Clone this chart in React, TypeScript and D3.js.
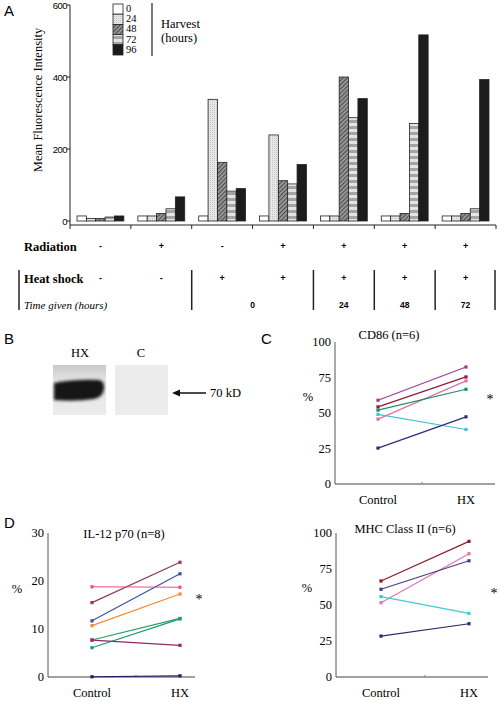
import React from "react";
import * as d3 from "d3";

// ---------- Panel A data ----------
const harvestLabels = ["0", "24", "48", "72", "96"];
const groupIndex = [0, 1, 2, 3, 4, 5, 6];
const h0 = [14, 14, 14, 14, 14, 14, 14];
const h24 = [7, 14, 338, 239, 14, 14, 14];
const h48 = [7, 21, 163, 112, 400, 21, 21];
const h72 = [11, 34, 83, 103, 287, 271, 34];
const h96 = [14, 67, 90, 157, 340, 517, 393];
const yTicksA = [0, 200, 400, 600];
const radiation = ["-", "+", "-", "+", "+", "+", "+"];
const heatShock = ["-", "-", "+", "+", "+", "+", "+"];
const timeGiven = ["0", "24", "48", "72"];

// ---------- Line panels data ----------
const cd86Control = [59, 54.3, 45.7, 52, 49, 25.3];
const cd86HX = [82.4, 75.4, 72.6, 66.7, 38.4, 47.3];
const cd86Colors = ["#9b3f92", "#8e1c3c", "#d873aa", "#1f8f62", "#3fc2d2", "#2c2c7c"];

const il12Control = [15.5, 11.7, 18.8, 10.7, 7.7, 6.1, 7.7, 0.05];
const il12HX = [23.9, 21.5, 18.7, 17.3, 12.2, 12.1, 6.6, 0.25];
const il12Colors = ["#8e3a52", "#3b50a2", "#ea4d8e", "#f28a3c", "#27a05c", "#1a9a78", "#8c2a6c", "#1c1c6c"];

const mhcControl = [66.7, 51.6, 60.9, 55.8, 28.4];
const mhcHX = [94.2, 85.6, 80.7, 44.2, 37];
const mhcColors = ["#8e1c2c", "#e274b4", "#4c3c7c", "#42cad2", "#2c2c6c"];

const pctTicks = [0, 25, 50, 75, 100];
const il12Ticks = [0, 10, 20, 30];
const conditionLabels = ["Control", "HX"];

const serif = "'Liberation Serif', 'Times New Roman', serif";
const sans = "'Liberation Sans', Arial, sans-serif";

function BarPanel() {
  const y = d3.scaleLinear().domain([0, 600]).range([221, 5]);
  const gx = d3.scaleBand<number>().domain(groupIndex).range([70, 496]).padding(0);
  const bx = d3
    .scaleBand<string>()
    .domain(harvestLabels)
    .range([7, gx.bandwidth() - 7])
    .padding(0);
  const series = [h0, h24, h48, h72, h96];
  const fills = ["#ffffff", "url(#p24)", "url(#p48)", "url(#p72)", "#1c1c1c"];
  const centers = groupIndex.map((g) => (gx(g) as number) + gx.bandwidth() / 2);
  const boundaries = d3.range(8).map((i) => 70 + i * gx.bandwidth());
  return (
    <g>
      <text x={4} y={16} fontFamily={sans} fontSize={15}>A</text>
      {/* legend */}
      {harvestLabels.map((h, i) => (
        <g key={h}>
          <rect x={113} y={4 + i * 10.2} width={10} height={10.2} fill={fills[i]} stroke="#222" strokeWidth={0.8} />
          <text x={126} y={12 + i * 10.2} fontFamily={serif} fontSize={10.5}>{h}</text>
        </g>
      ))}
      <line x1={152} x2={152} y1={3} y2={56} stroke="#222" strokeWidth={1.2} />
      <text x={161} y={28} fontFamily={serif} fontSize={12.5}>Harvest</text>
      <text x={161} y={42} fontFamily={serif} fontSize={12.5}>(hours)</text>
      {/* y axis */}
      <line x1={70} x2={70} y1={5} y2={225} stroke="#222" strokeWidth={1} />
      {yTicksA.map((t) => (
        <g key={t}>
          <line x1={67} x2={70} y1={y(t)} y2={y(t)} stroke="#222" />
          <text x={67} y={y(t) + 3.5} textAnchor="end" fontFamily={sans} fontSize={9.5} letterSpacing={-0.5}>{t}</text>
        </g>
      ))}
      <text
        transform={`translate(42,100) rotate(-90)`}
        textAnchor="middle"
        fontFamily={serif}
        fontSize={12.5}
      >Mean Fluorescence Intensity</text>
      {/* x axis */}
      <line x1={70} x2={496} y1={225} y2={225} stroke="#222" strokeWidth={1} />
      {boundaries.map((b, i) => (
        <line key={i} x1={b} x2={b} y1={225} y2={229} stroke="#222" />
      ))}
      {/* bars */}
      {series.map((s, si) =>
        s.map((v, gi) => (
          <rect
            key={`${si}-${gi}`}
            x={(gx(gi) as number) + (bx(harvestLabels[si]) as number)}
            y={y(v)}
            width={bx.bandwidth()}
            height={221 - y(v)}
            fill={fills[si]}
            stroke="#222"
            strokeWidth={0.8}
          />
        ))
      )}
      {/* treatment table */}
      <text x={24} y={251} fontFamily={serif} fontSize={12.5} fontWeight="bold">Radiation</text>
      {radiation.map((r, i) => (
        <text key={i} x={centers[i]} y={249} textAnchor="middle" fontFamily={sans} fontSize={9} fontWeight="bold">{r}</text>
      ))}
      <text x={24} y={283} fontFamily={serif} fontSize={12.5} fontWeight="bold">Heat shock</text>
      {heatShock.map((r, i) => (
        <text key={i} x={centers[i]} y={281} textAnchor="middle" fontFamily={sans} fontSize={9} fontWeight="bold">{r}</text>
      ))}
      <text x={24} y={309} fontFamily={serif} fontSize={11} fontStyle="italic">Time given (hours)</text>
      {[19, boundaries[2], boundaries[4], boundaries[5], boundaries[6], boundaries[7] - 1].map((b, i) => (
        <line key={i} x1={b} x2={b} y1={270} y2={310} stroke="#222" strokeWidth={1.5} />
      ))}
      {timeGiven.map((t, i) => {
        const cx = i === 0 ? boundaries[3] : centers[i + 3];
        return (
          <text key={t} x={cx} y={308} textAnchor="middle" fontFamily={sans} fontSize={8.5} fontWeight="bold">{t}</text>
        );
      })}
    </g>
  );
}

function BlotPanel() {
  return (
    <g>
      <text x={4} y={344} fontFamily={sans} fontSize={15}>B</text>
      <text x={80} y={357} textAnchor="middle" fontFamily={serif} fontSize={12.5}>HX</text>
      <text x={141} y={357} textAnchor="middle" fontFamily={serif} fontSize={12.5}>C</text>
      <rect x={53} y={365} width={53} height={50} fill="url(#laneGrad)" />
      <g filter="url(#blur)">
        <path d="M54,383 Q75,379 99,380 Q105,381 104,389 Q103,397 94,399 Q75,402 54,400 Z" fill="#141414" />
      </g>
      <rect x={115} y={365} width={53} height={50} fill="#ececec" />
      <line x1={178} x2={206} y1={393} y2={393} stroke="#111" strokeWidth={1.5} />
      <path d="M172,393 L180,389.5 L180,396.5 Z" fill="#111" />
      <text x={210} y={397} fontFamily={serif} fontSize={12.5}>70 kD</text>
    </g>
  );
}

type LPProps = {
  letter?: string;
  letterX?: number;
  letterY?: number;
  title: string;
  titleX: number;
  titleY: number;
  axisX: number;
  axisEnd: number;
  yTop: number;
  yBottom: number;
  domainMax: number;
  ticks: number[];
  cx: number;
  hx: number;
  control: number[];
  hxVals: number[];
  colors: string[];
  pctX: number;
  pctY: number;
  starX: number;
  starY: number;
  labelY: number;
};

function LinePanel(p: LPProps) {
  const y = d3.scaleLinear().domain([0, p.domainMax]).range([p.yBottom, p.yTop]);
  const x = d3.scalePoint<string>().domain(conditionLabels).range([p.cx, p.hx]);
  const line = d3
    .line<[string, number]>()
    .x((d) => x(d[0]) as number)
    .y((d) => y(d[1]));
  return (
    <g>
      {p.letter && (
        <text x={p.letterX} y={p.letterY} fontFamily={sans} fontSize={15}>{p.letter}</text>
      )}
      <text x={p.titleX} y={p.titleY} textAnchor="middle" fontFamily={serif} fontSize={12.5}>{p.title}</text>
      <line x1={p.axisX} x2={p.axisX} y1={p.yTop} y2={p.yBottom} stroke="#555" strokeWidth={1} />
      <line x1={p.axisX} x2={p.axisEnd} y1={p.yBottom} y2={p.yBottom} stroke="#444" strokeWidth={1} />
      <line
        x1={(p.cx + p.hx) / 2}
        x2={(p.cx + p.hx) / 2}
        y1={p.yBottom}
        y2={p.yBottom - 2}
        stroke="#888"
      />
      {p.ticks.map((t) => (
        <text key={t} x={p.axisX - 4} y={y(t) + 4} textAnchor="end" fontFamily={serif} fontSize={12.5}>{t}</text>
      ))}
      <text x={p.pctX} y={p.pctY} textAnchor="middle" fontFamily={serif} fontSize={12.5}>%</text>
      <text x={p.starX} y={p.starY} textAnchor="middle" fontFamily={serif} fontSize={14}>*</text>
      {p.control.map((c, i) => {
        const pts: [string, number][] = [
          ["Control", c],
          ["HX", p.hxVals[i]],
        ];
        return (
          <g key={i}>
            <path d={line(pts) || ""} fill="none" stroke={p.colors[i]} strokeWidth={1.2} />
            {pts.map((d, j) => (
              <rect
                key={j}
                x={(x(d[0]) as number) - 1.6}
                y={y(d[1]) - 1.6}
                width={3.2}
                height={3.2}
                fill={p.colors[i]}
              />
            ))}
          </g>
        );
      })}
      {conditionLabels.map((l) => (
        <text key={l} x={x(l) as number} y={p.labelY} textAnchor="middle" fontFamily={serif} fontSize={12.5}>{l}</text>
      ))}
    </g>
  );
}

export default function App() {
  return (
    <svg
      width={500}
      height={701}
      style={{ position: "absolute", left: 0, top: 0, background: "#fff" }}
    >
      <defs>
        <pattern id="p24" width={2} height={2} patternUnits="userSpaceOnUse">
          <rect width={2} height={2} fill="#e8e8e8" />
          <rect width={1} height={1} fill="#c4c4c4" />
        </pattern>
        <pattern id="p48" width={3} height={3} patternUnits="userSpaceOnUse" patternTransform="rotate(45)">
          <rect width={3} height={3} fill="#a0a0a0" />
          <rect width={1.3} height={3} fill="#505050" />
        </pattern>
        <pattern id="p72" width={6} height={6} patternUnits="userSpaceOnUse">
          <rect width={6} height={6} fill="#e4e4e4" />
          <rect width={6} height={3} fill="#a4a4a4" />
        </pattern>
        <linearGradient id="laneGrad" x1="0" y1="0" x2="0" y2="1">
          <stop offset="0" stopColor="#cacaca" />
          <stop offset="0.3" stopColor="#e2e2e2" />
          <stop offset="1" stopColor="#ececec" />
        </linearGradient>
        <filter id="blur" x="-20%" y="-50%" width="140%" height="200%">
          <feGaussianBlur stdDeviation="1.6" />
        </filter>
      </defs>
      <BarPanel />
      <BlotPanel />
      <LinePanel
        letter="C"
        letterX={261}
        letterY={344}
        title="CD86 (n=6)"
        titleX={389}
        titleY={339}
        axisX={335}
        axisEnd={495}
        yTop={342}
        yBottom={484}
        domainMax={100}
        ticks={pctTicks}
        cx={378}
        hx={466}
        control={cd86Control}
        hxVals={cd86HX}
        colors={cd86Colors}
        pctX={308}
        pctY={401}
        starX={490}
        starY={404}
        labelY={504}
      />
      <LinePanel
        letter="D"
        letterX={4}
        letterY={528}
        title="IL-12 p70 (n=8)"
        titleX={124}
        titleY={538}
        axisX={48}
        axisEnd={195}
        yTop={533}
        yBottom={677}
        domainMax={30}
        ticks={il12Ticks}
        cx={92}
        hx={180}
        control={il12Control}
        hxVals={il12HX}
        colors={il12Colors}
        pctX={17}
        pctY={593}
        starX={199}
        starY={604}
        labelY={697}
      />
      <LinePanel
        title="MHC Class II (n=6)"
        titleX={405}
        titleY={533}
        axisX={336}
        axisEnd={488}
        yTop={533}
        yBottom={677}
        domainMax={100}
        ticks={pctTicks}
        cx={381}
        hx={469}
        control={mhcControl}
        hxVals={mhcHX}
        colors={mhcColors}
        pctX={307}
        pctY={592}
        starX={494}
        starY={598}
        labelY={697}
      />
    </svg>
  );
}
